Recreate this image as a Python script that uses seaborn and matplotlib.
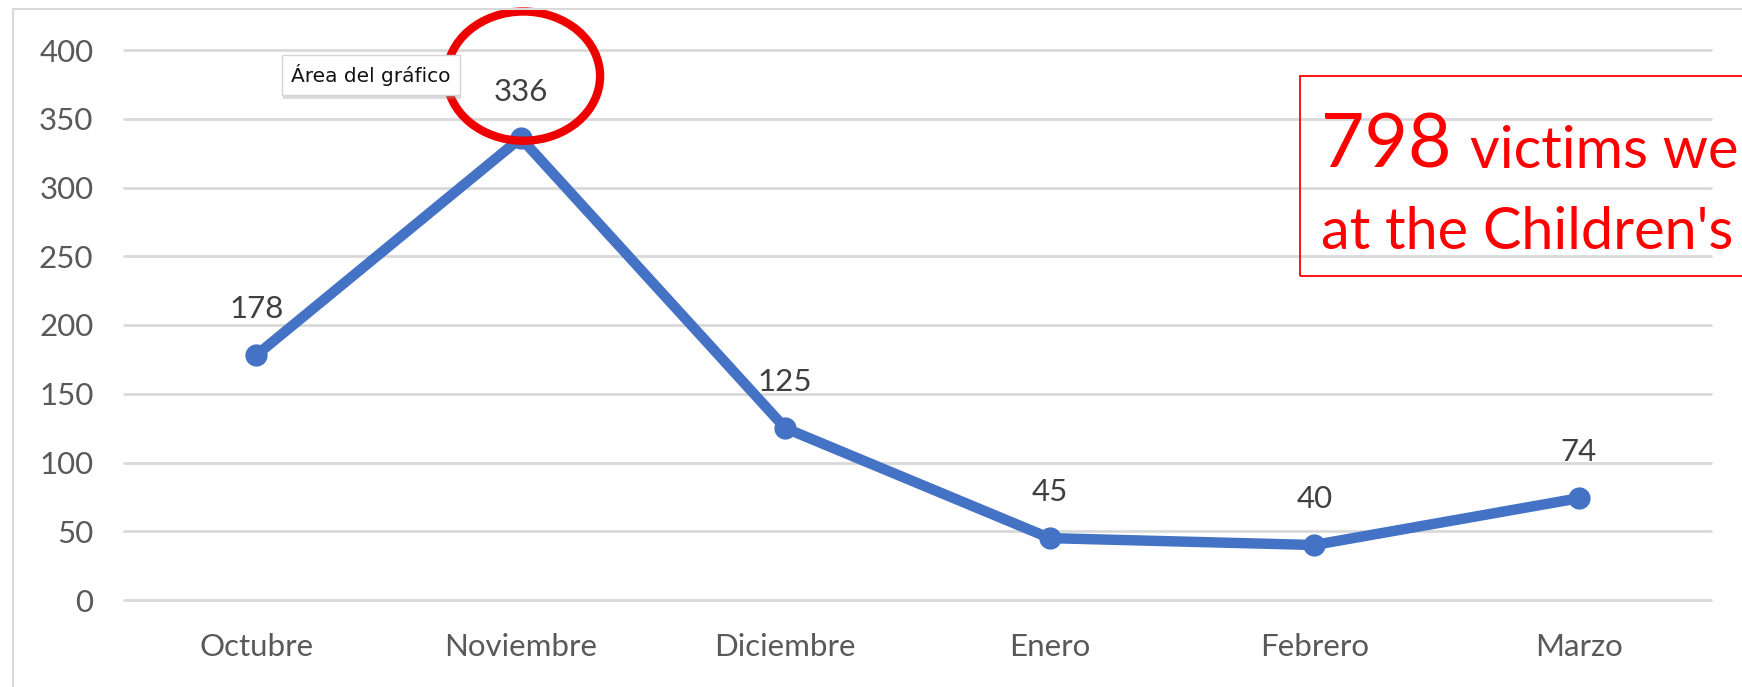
import matplotlib
matplotlib.use("Agg")
import matplotlib.pyplot as plt
import matplotlib.patheffects as pe
import seaborn as sns
import pandas as pd
from matplotlib.patches import Ellipse, Rectangle

# ----------------------------------------------------------
# data
# ----------------------------------------------------------
months = ["Octubre", "Noviembre", "Diciembre", "Enero", "Febrero", "Marzo"]
victims = [178, 336, 125, 45, 40, 74]
y_ticks = [0, 50, 100, 150, 200, 250, 300, 350, 400]
total_text = "798"
line1_text = "victims we"
line2_text = "at the Children's"
tooltip_text = "Área del gráfico"

# ----------------------------------------------------------
# style
# ----------------------------------------------------------
sns.set_style("white")
plt.rcParams["font.family"] = ["Lato", "DejaVu Sans"]

W, H = 1742, 687
fig = plt.figure(figsize=(W / 100, H / 100), dpi=100)
ax = fig.add_axes([124 / W, 1 - 600 / H, (1711 - 124) / W, 550 / H])

df = pd.DataFrame({"month": months, "victims": victims})
sns.lineplot(data=df, x="month", y="victims", sort=False, marker="o",
             color="#4472C4", lw=7.5, markersize=16, markeredgewidth=0, ax=ax)

for i, v in enumerate(victims):
    ax.annotate(str(v), (i, v), xytext=(0, 33), textcoords="offset points",
                ha="center", va="center", fontsize=22.5, color="#404040")

ax.set_xlim(-0.5, len(months) - 0.5)
ax.set_ylim(0, 400)
ax.set_yticks(y_ticks)
ax.set_xlabel("")
ax.set_ylabel("")
ax.grid(axis="y", color="#d9d9d9", lw=2)
ax.grid(axis="x", visible=False)
for gl in ax.get_ygridlines():
    gl.set_clip_on(False)
sns.despine(ax=ax, left=True, bottom=True)
ax.tick_params(axis="both", length=0, labelsize=22.5, labelcolor="#595959")
ax.tick_params(axis="x", pad=24)
ax.tick_params(axis="y", pad=22)

# red circle round the peak
ax.add_patch(Ellipse((1.01, 381), 0.58, 94, fill=False, edgecolor="#ee0000",
                     lw=6, clip_on=False, zorder=6))

# tooltip
tip = fig.text(291 / W, 1 - 75 / H, tooltip_text, fontsize=14.5,
               family="DejaVu Sans", color="#111111",
               ha="left", va="center", zorder=5,
               bbox=dict(boxstyle="square,pad=0.45", fc="white",
                         ec="#d4d4d4", lw=1))
tip.get_bbox_patch().set_path_effects(
    [pe.withSimplePatchShadow(offset=(1, -3), shadow_rgbFace="#999999", alpha=0.35)])

# outer chart frame (cut by image edge)
fig.patches.append(Rectangle((13 / W, -0.05), 1.0, 1 - 9 / H + 0.05,
                             transform=fig.transFigure, fill=False,
                             edgecolor="#d9d9d9", lw=1.5))

# annotation box
fig.patches.append(Rectangle((1300 / W, 1 - 276 / H), 0.5, (276 - 76) / H,
                             transform=fig.transFigure, fill=False,
                             edgecolor="#ff0000", lw=1.3, zorder=7))
fig.text(1321 / W, 1 - 168 / H, total_text, fontsize=54, color="#ff0000",
         ha="left", va="baseline")
fig.text(1470 / W, 1 - 168 / H, line1_text, fontsize=41.5, color="#ff0000",
         ha="left", va="baseline")
fig.text(1321 / W, 1 - 249 / H, line2_text, fontsize=41.5, color="#ff0000",
         ha="left", va="baseline")

plt.savefig("out.png", dpi=100)
